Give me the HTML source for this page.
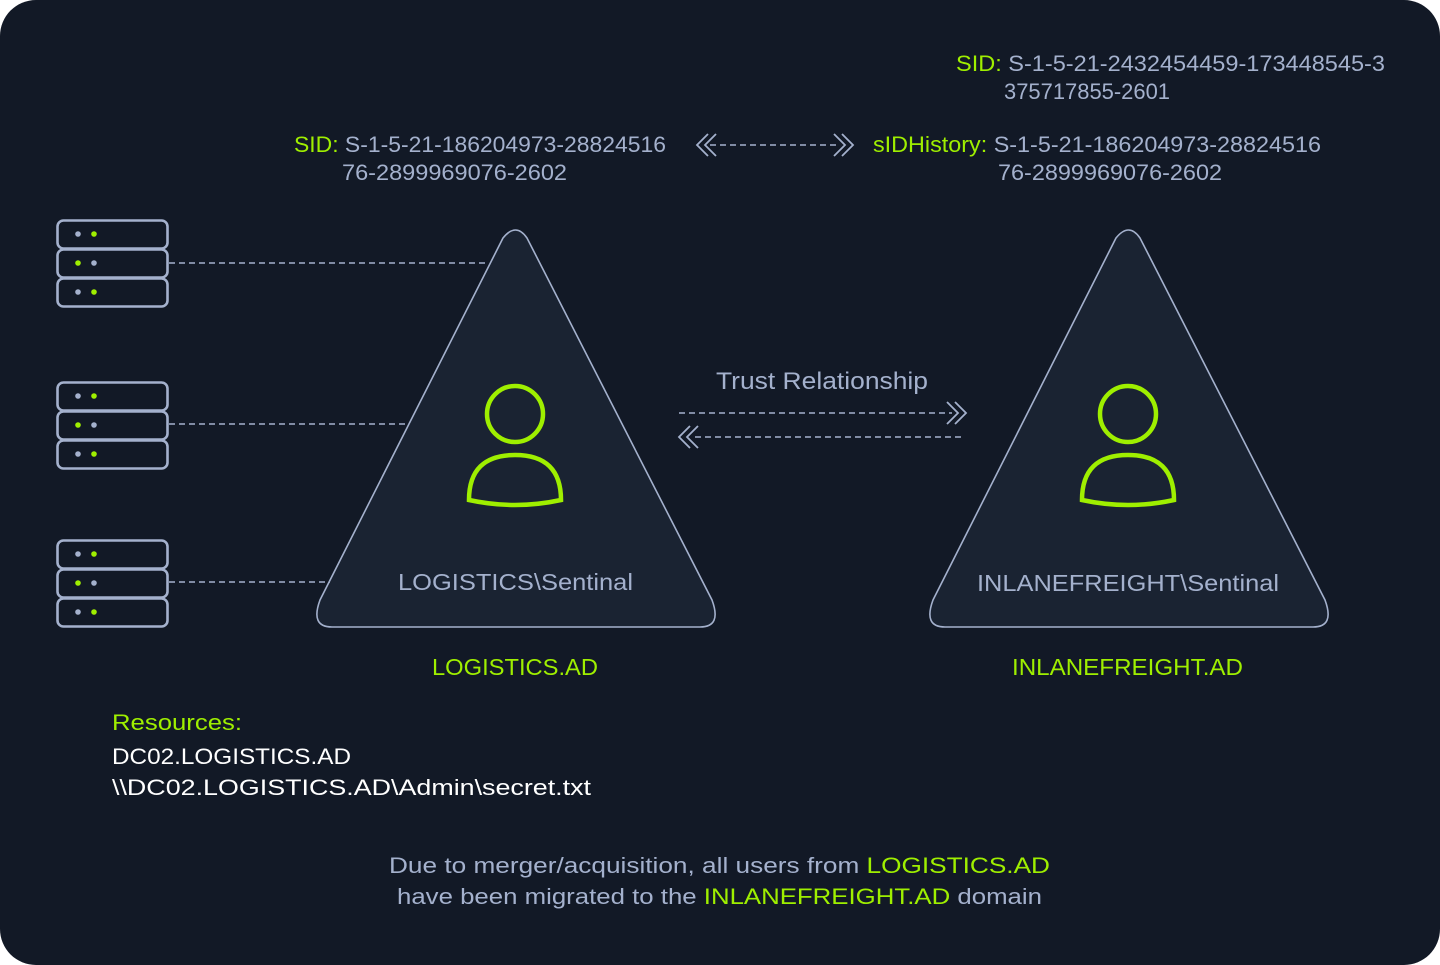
<!DOCTYPE html>
<html><head><meta charset="utf-8"><style>
html,body{margin:0;padding:0;background:#fff;}
svg{display:block;}
text{font-family:"Liberation Sans","DejaVu Sans",sans-serif;}
</style></head><body>
<svg width="1440" height="965" viewBox="0 0 1440 965" xmlns="http://www.w3.org/2000/svg">
<rect x="0" y="0" width="1440" height="965" rx="36" fill="#121926"/>
<g fill="none" stroke="#a4b1cd" stroke-width="2">
<path d="M503 238 Q516 222 527 238 L712 600 Q722 627 700 627 L332 627 Q310 627 320 600 Z" fill="#1a2332" stroke-width="1.6"/>
<path d="M1116 238 Q1129 222 1140 238 L1325 600 Q1335 627 1313 627 L945 627 Q923 627 933 600 Z" fill="#1a2332" stroke-width="1.6"/>
<g stroke-dasharray="6 4" stroke-width="1.6">
<line x1="169" y1="263" x2="488" y2="263"/>
<line x1="169" y1="424" x2="408" y2="424"/>
<line x1="169" y1="582" x2="330" y2="582"/>
<line x1="710" y1="145" x2="838" y2="145"/>
<line x1="679" y1="413" x2="952" y2="413"/>
<line x1="695" y1="437" x2="965" y2="437"/>
</g>
<g stroke-width="1.8">
<path d="M708 134 L697 145 L708 156 M716 134 L705 145 L716 156"/>
<path d="M834 134 L845 145 L834 156 M842 134 L853 145 L842 156"/>
<path d="M947 402 L958 413 L947 424 M955 402 L966 413 L955 424"/>
<path d="M690 426 L679 437 L690 448 M698 426 L687 437 L698 448"/>
</g>
<g stroke-width="2.6">
<rect x="57.5" y="220.5" width="110" height="28" rx="6"/>
<rect x="57.5" y="249.5" width="110" height="28" rx="6"/>
<rect x="57.5" y="278.5" width="110" height="28" rx="6"/>
<rect x="57.5" y="382.5" width="110" height="28" rx="6"/>
<rect x="57.5" y="411.5" width="110" height="28" rx="6"/>
<rect x="57.5" y="440.5" width="110" height="28" rx="6"/>
<rect x="57.5" y="540.5" width="110" height="28" rx="6"/>
<rect x="57.5" y="569.5" width="110" height="28" rx="6"/>
<rect x="57.5" y="598.5" width="110" height="28" rx="6"/>
</g>
<g stroke="#9fef00" stroke-width="4.5">
<circle cx="515" cy="414" r="28"/>
<path d="M469 500 Q469 455 515 455 Q561 455 561 500 Q515 510 469 500 Z"/>
<circle cx="1128" cy="414" r="28"/>
<path d="M1082 500 Q1082 455 1128 455 Q1174 455 1174 500 Q1128 510 1082 500 Z"/>
</g>
</g>
<g>
<g fill="#a4b1cd">
<circle cx="78" cy="234" r="2.8"/><circle cx="94" cy="263" r="2.8"/><circle cx="78" cy="292" r="2.8"/>
<circle cx="78" cy="396" r="2.8"/><circle cx="94" cy="425" r="2.8"/><circle cx="78" cy="454" r="2.8"/>
<circle cx="78" cy="554" r="2.8"/><circle cx="94" cy="583" r="2.8"/><circle cx="78" cy="612" r="2.8"/>
</g>
<g fill="#9fef00">
<circle cx="94" cy="234" r="2.8"/><circle cx="78" cy="263" r="2.8"/><circle cx="94" cy="292" r="2.8"/>
<circle cx="94" cy="396" r="2.8"/><circle cx="78" cy="425" r="2.8"/><circle cx="94" cy="454" r="2.8"/>
<circle cx="94" cy="554" r="2.8"/><circle cx="78" cy="583" r="2.8"/><circle cx="94" cy="612" r="2.8"/>
</g>
</g>
<g font-size="22" fill="#a4b1cd" lengthAdjust="spacingAndGlyphs">
<text x="294" y="152" textLength="372" lengthAdjust="spacingAndGlyphs"><tspan fill="#9fef00">SID:</tspan> S-1-5-21-186204973-28824516</text>
<text x="342" y="180" textLength="225" lengthAdjust="spacingAndGlyphs">76-2899969076-2602</text>
<text x="873" y="152" textLength="448" lengthAdjust="spacingAndGlyphs"><tspan fill="#9fef00">sIDHistory:</tspan> S-1-5-21-186204973-28824516</text>
<text x="998" y="180" textLength="224" lengthAdjust="spacingAndGlyphs">76-2899969076-2602</text>
<text x="956" y="71" textLength="429" lengthAdjust="spacingAndGlyphs"><tspan fill="#9fef00">SID:</tspan> S-1-5-21-2432454459-173448545-3</text>
<text x="1004" y="99" textLength="166" lengthAdjust="spacingAndGlyphs">375717855-2601</text>
<text x="716" y="389" font-size="24" textLength="212" lengthAdjust="spacingAndGlyphs">Trust Relationship</text>
<text x="398" y="590" font-size="23" textLength="235" lengthAdjust="spacingAndGlyphs">LOGISTICS\Sentinal</text>
<text x="977" y="591" font-size="23" textLength="302" lengthAdjust="spacingAndGlyphs">INLANEFREIGHT\Sentinal</text>
</g>
<g font-size="23" fill="#9fef00">
<text x="432" y="675" textLength="166" lengthAdjust="spacingAndGlyphs">LOGISTICS.AD</text>
<text x="1012" y="675" textLength="231" lengthAdjust="spacingAndGlyphs">INLANEFREIGHT.AD</text>
</g>
<text x="112" y="730" font-size="22" fill="#9fef00" textLength="130" lengthAdjust="spacingAndGlyphs">Resources:</text>
<text x="112" y="764" font-size="22" fill="#ffffff" textLength="239" lengthAdjust="spacingAndGlyphs">DC02.LOGISTICS.AD</text>
<text x="112" y="795" font-size="22" fill="#ffffff" textLength="479" lengthAdjust="spacingAndGlyphs">\\DC02.LOGISTICS.AD\Admin\secret.txt</text>
<g font-size="22" fill="#a4b1cd">
<text x="389" y="873" textLength="661" lengthAdjust="spacingAndGlyphs">Due to merger/acquisition, all users from <tspan fill="#9fef00">LOGISTICS.AD</tspan></text>
<text x="397" y="904" textLength="645" lengthAdjust="spacingAndGlyphs">have been migrated to the <tspan fill="#9fef00">INLANEFREIGHT.AD</tspan> domain</text>
</g>
</svg>
</body></html>
